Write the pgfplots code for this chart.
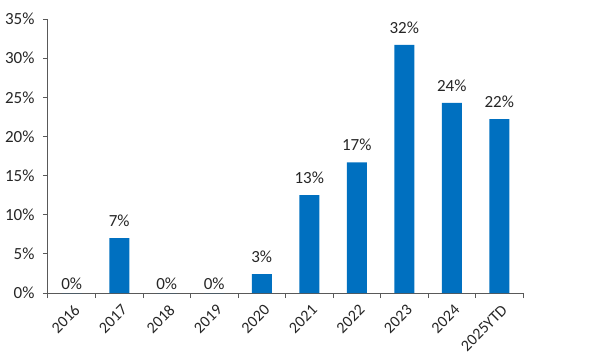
\documentclass[border=0pt]{standalone}
\usepackage{pgfplots}
\pgfplotsset{compat=1.18}
\usepackage{pgfplotstable}
\usepackage{fontspec}
\setmainfont{Carlito}
\definecolor{barblue}{HTML}{0070C0}
\definecolor{txt}{HTML}{262626}
\definecolor{axisgray}{HTML}{595959}
\newcommand{\lbl}{\fontsize{17}{19}\selectfont}
\newcommand{\xlbl}{\fontsize{16}{18}\selectfont}
\pgfplotstableread{
x y lab
1 7.0 7\%
4 2.4 3\%
5 12.5 13\%
6 16.7 17\%
7 31.7 32\%
8 24.3 24\%
9 22.2 22\%
}\nonzero
\pgfplotstableread{
x y lab
0 0 0\%
2 0 0\%
3 0 0\%
}\zeros
\begin{document}
\begin{tikzpicture}
\useasboundingbox (-48pt,-69pt) rectangle (542pt,293pt);
\begin{axis}[
  at={(0,0)}, anchor=south west,
  scale only axis, width=475pt, height=274pt,
  xmin=-0.5, xmax=9.5, ymin=0, ymax=35,
  axis x line*=bottom, axis y line*=left,
  axis line style={axisgray, line width=1pt, -},
  ytick={0,5,...,35},
  yticklabel={\lbl\pgfmathprintnumber{\tick}\%},
  xtick={-0.5,0.5,...,9.5},
  xticklabels={},
  extra x ticks={0,...,9},
  extra x tick labels={\xlbl 2016,\xlbl 2017,\xlbl 2018,\xlbl 2019,\xlbl 2020,\xlbl 2021,\xlbl 2022,\xlbl 2023,\xlbl 2024,\xlbl 2025YTD},
  extra x tick style={major tick length=0pt},
  every tick/.style={draw=axisgray, line width=1pt},
  tick align=outside, major tick length=5pt,
  xtick pos=bottom, ytick pos=left,
  ticklabel style={text=txt},
  yticklabel style={xshift=-5pt},
  xticklabel style={rotate=45, anchor=east, xshift=-3pt, yshift=-14pt},
  /pgf/number format/assume math mode=true,
  ybar, bar width=20pt,
  clip=false,
  point meta=explicit symbolic,
  nodes near coords={\lbl\pgfplotspointmeta},
  every node near coord/.append style={text=txt, anchor=south, inner sep=0pt},
]
\addplot[fill=barblue, draw=none, bar shift=0pt, every node near coord/.append style={yshift=11pt}] table[x=x, y=y, meta=lab] {\nonzero};
\addplot[fill=barblue, draw=none, bar shift=0pt, every node near coord/.append style={yshift=3pt}] table[x=x, y=y, meta=lab] {\zeros};
\end{axis}
\end{tikzpicture}
\end{document}
